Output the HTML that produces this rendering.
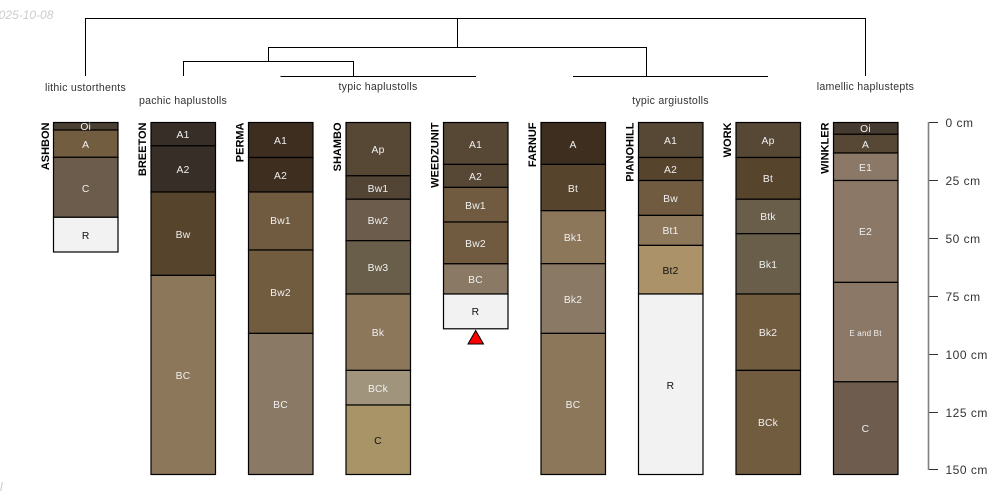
<!DOCTYPE html>
<html><head><meta charset="utf-8">
<style>
html,body{margin:0;padding:0;background:#fff;width:1000px;height:500px;overflow:hidden}
svg{display:block}
text{font-family:"Liberation Sans",sans-serif}
.r rect{stroke:#000;stroke-width:1.2}
.h text{font-size:10.3px;text-anchor:middle;fill:#f0f0f0;letter-spacing:.2px}
.h text.d{fill:#111}
.n{font-size:11px;font-weight:bold;text-anchor:end;fill:#000}
.g{font-size:10.6px;text-anchor:middle;fill:#333;letter-spacing:.25px}
.t{font-size:12px;fill:#333;letter-spacing:.5px}
</style></head><body>
<svg width="1000" height="500" viewBox="0 0 1000 500" xmlns="http://www.w3.org/2000/svg">
<text x="-8" y="19" font-style="italic" fill="#ccc" style="font-size:12px">2025-10-08</text>
<text x="0" y="491" font-style="italic" fill="#ccc" style="font-size:12px">l</text>

<g fill="none" stroke="#000" stroke-width="1">
<path d="M85.5 76V18.5H865.5V76"/>
<path d="M457.5 18.5V47.5"/>
<path d="M646.5 76V47.5H268.5V61.5"/>
<path d="M183.5 76V61.5H353.5V76"/>
<path d="M280.5 76.5H476"/>
<path d="M573 76.5H768"/>
</g>
<g class="g">
<text x="85.5" y="91">lithic ustorthents</text>
<text x="183" y="104">pachic haplustolls</text>
<text x="378" y="90">typic haplustolls</text>
<text x="670.5" y="104">typic argiustolls</text>
<text x="865.5" y="90">lamellic haplustepts</text>
</g>

<g class="r">
<rect x="53.5" y="122.5" width="64.5" height="7.5" fill="#4a3f33"/>
<rect x="53.5" y="130" width="64.5" height="27.3" fill="#735d41"/>
<rect x="53.5" y="157.3" width="64.5" height="60" fill="#6b5c4b"/>
<rect x="53.5" y="217.3" width="64.5" height="34.7" fill="#f2f2f2"/>

<rect x="151" y="122.5" width="64.5" height="23.3" fill="#372e28"/>
<rect x="151" y="145.8" width="64.5" height="46.2" fill="#372e28"/>
<rect x="151" y="192" width="64.5" height="83.4" fill="#57442d"/>
<rect x="151" y="275.4" width="64.5" height="199.1" fill="#8d775b"/>

<rect x="248.5" y="122.5" width="64.5" height="35" fill="#3d2e20"/>
<rect x="248.5" y="157.5" width="64.5" height="34.5" fill="#3d2e20"/>
<rect x="248.5" y="192" width="64.5" height="58" fill="#705b40"/>
<rect x="248.5" y="250" width="64.5" height="83.4" fill="#725c3f"/>
<rect x="248.5" y="333.4" width="64.5" height="141.1" fill="#897965"/>

<rect x="346" y="122.5" width="64.5" height="53.3" fill="#574836"/>
<rect x="346" y="175.8" width="64.5" height="23.4" fill="#524535"/>
<rect x="346" y="199.2" width="64.5" height="41.5" fill="#6b5c4b"/>
<rect x="346" y="240.7" width="64.5" height="53.3" fill="#695e49"/>
<rect x="346" y="294" width="64.5" height="76.4" fill="#8d775b"/>
<rect x="346" y="370.4" width="64.5" height="34.6" fill="#a0947c"/>
<rect x="346" y="405" width="64.5" height="69.5" fill="#a89467"/>

<rect x="443.5" y="122.5" width="64.5" height="41.9" fill="#574836"/>
<rect x="443.5" y="164.4" width="64.5" height="23" fill="#574836"/>
<rect x="443.5" y="187.4" width="64.5" height="34.6" fill="#705b40"/>
<rect x="443.5" y="222" width="64.5" height="41.8" fill="#705b40"/>
<rect x="443.5" y="263.8" width="64.5" height="30.2" fill="#897965"/>
<rect x="443.5" y="294" width="64.5" height="34.8" fill="#f2f2f2"/>

<rect x="541" y="122.5" width="64.5" height="41.9" fill="#3d2e20"/>
<rect x="541" y="164.4" width="64.5" height="46.3" fill="#57442d"/>
<rect x="541" y="210.7" width="64.5" height="53" fill="#8d775b"/>
<rect x="541" y="263.7" width="64.5" height="69.7" fill="#897965"/>
<rect x="541" y="333.4" width="64.5" height="141.1" fill="#8d775b"/>

<rect x="638.5" y="122.5" width="64.5" height="35" fill="#574836"/>
<rect x="638.5" y="157.5" width="64.5" height="23" fill="#57442d"/>
<rect x="638.5" y="180.5" width="64.5" height="34.9" fill="#705b40"/>
<rect x="638.5" y="215.4" width="64.5" height="30" fill="#8d775b"/>
<rect x="638.5" y="245.4" width="64.5" height="48.6" fill="#ac9269"/>
<rect x="638.5" y="294" width="64.5" height="180.5" fill="#f2f2f2"/>

<rect x="736" y="122.5" width="64.5" height="35" fill="#574836"/>
<rect x="736" y="157.5" width="64.5" height="41.7" fill="#57442d"/>
<rect x="736" y="199.2" width="64.5" height="34.5" fill="#695e49"/>
<rect x="736" y="233.7" width="64.5" height="60.3" fill="#695e49"/>
<rect x="736" y="294" width="64.5" height="76.4" fill="#725c3f"/>
<rect x="736" y="370.4" width="64.5" height="104.1" fill="#725c3f"/>

<rect x="833.5" y="122.5" width="64.5" height="11.8" fill="#453a30"/>
<rect x="833.5" y="134.3" width="64.5" height="18.7" fill="#574836"/>
<rect x="833.5" y="153" width="64.5" height="27.5" fill="#8b7866"/>
<rect x="833.5" y="180.5" width="64.5" height="101.9" fill="#8b7866"/>
<rect x="833.5" y="282.4" width="64.5" height="99.4" fill="#8b7866"/>
<rect x="833.5" y="381.8" width="64.5" height="92.7" fill="#6e5d4e"/>
</g>

<g class="h">
<text x="85.7" y="130">Oi</text><text x="85.7" y="148">A</text><text x="85.7" y="192">C</text><text class="d" x="85.7" y="239">R</text>
<text x="183" y="138">A1</text><text x="183" y="173">A2</text><text x="183" y="238">Bw</text><text x="183" y="379">BC</text>
<text x="280.5" y="144">A1</text><text x="280.5" y="179">A2</text><text x="280.5" y="224">Bw1</text><text x="280.5" y="296">Bw2</text><text x="280.5" y="408">BC</text>
<text x="378" y="153">Ap</text><text x="378" y="192">Bw1</text><text x="378" y="224">Bw2</text><text x="378" y="271">Bw3</text><text x="378" y="336">Bk</text><text x="378" y="392">BCk</text><text class="d" x="378" y="444">C</text>
<text x="475.5" y="148">A1</text><text x="475.5" y="180">A2</text><text x="475.5" y="209">Bw1</text><text x="475.5" y="247">Bw2</text><text x="475.5" y="283">BC</text><text class="d" x="475.5" y="315">R</text>
<text x="573" y="148">A</text><text x="573" y="192">Bt</text><text x="573" y="241">Bk1</text><text x="573" y="303">Bk2</text><text x="573" y="408">BC</text>
<text x="670.5" y="144">A1</text><text x="670.5" y="173">A2</text><text x="670.5" y="202">Bw</text><text x="670.5" y="234">Bt1</text><text class="d" x="670.5" y="274">Bt2</text><text class="d" x="670.5" y="389">R</text>
<text x="768" y="144">Ap</text><text x="768" y="182">Bt</text><text x="768" y="220">Btk</text><text x="768" y="268">Bk1</text><text x="768" y="336">Bk2</text><text x="768" y="426">BCk</text>
<text x="865.5" y="132">Oi</text><text x="865.5" y="148">A</text><text x="865.5" y="171">E1</text><text x="865.5" y="235">E2</text><text x="865.5" y="336" style="font-size:8px">E and Bt</text><text x="865.5" y="432">C</text>
</g>

<g class="n">
<text transform="translate(48.9 122.5) rotate(-90)">ASHBON</text>
<text transform="translate(145.9 122.5) rotate(-90)">BREETON</text>
<text transform="translate(243.4 122.5) rotate(-90)">PERMA</text>
<text transform="translate(340.9 122.5) rotate(-90)">SHAMBO</text>
<text transform="translate(438.4 122.5) rotate(-90)">WEEDZUNIT</text>
<text transform="translate(535.9 122.5) rotate(-90)">FARNUF</text>
<text transform="translate(633.4 122.5) rotate(-90)">PIANOHILL</text>
<text transform="translate(730.9 122.5) rotate(-90)">WORK</text>
<text transform="translate(828.4 122.5) rotate(-90)">WINKLER</text>
</g>

<polygon points="475.7,330.5 483.5,344 468,344" fill="#f00" stroke="#000" stroke-width="1"/>

<g fill="none" stroke="#000" stroke-width="1">
<path d="M938 122.5H928.5M938 180.5H928.5M938 238.5H928.5M938 296.5H928.5M938 354.5H928.5M938 412.5H928.5M938 469.5H928.5" stroke="#333"/>
<path d="M928.5 122V470" stroke="#808080" stroke-width="1.6"/>
</g>
<g class="t">
<text x="945.5" y="127">0 cm</text>
<text x="945.5" y="185">25 cm</text>
<text x="945.5" y="243">50 cm</text>
<text x="945.5" y="301">75 cm</text>
<text x="945.5" y="359">100 cm</text>
<text x="945.5" y="417">125 cm</text>
<text x="945.5" y="474">150 cm</text>
</g>
</svg>
</body></html>
